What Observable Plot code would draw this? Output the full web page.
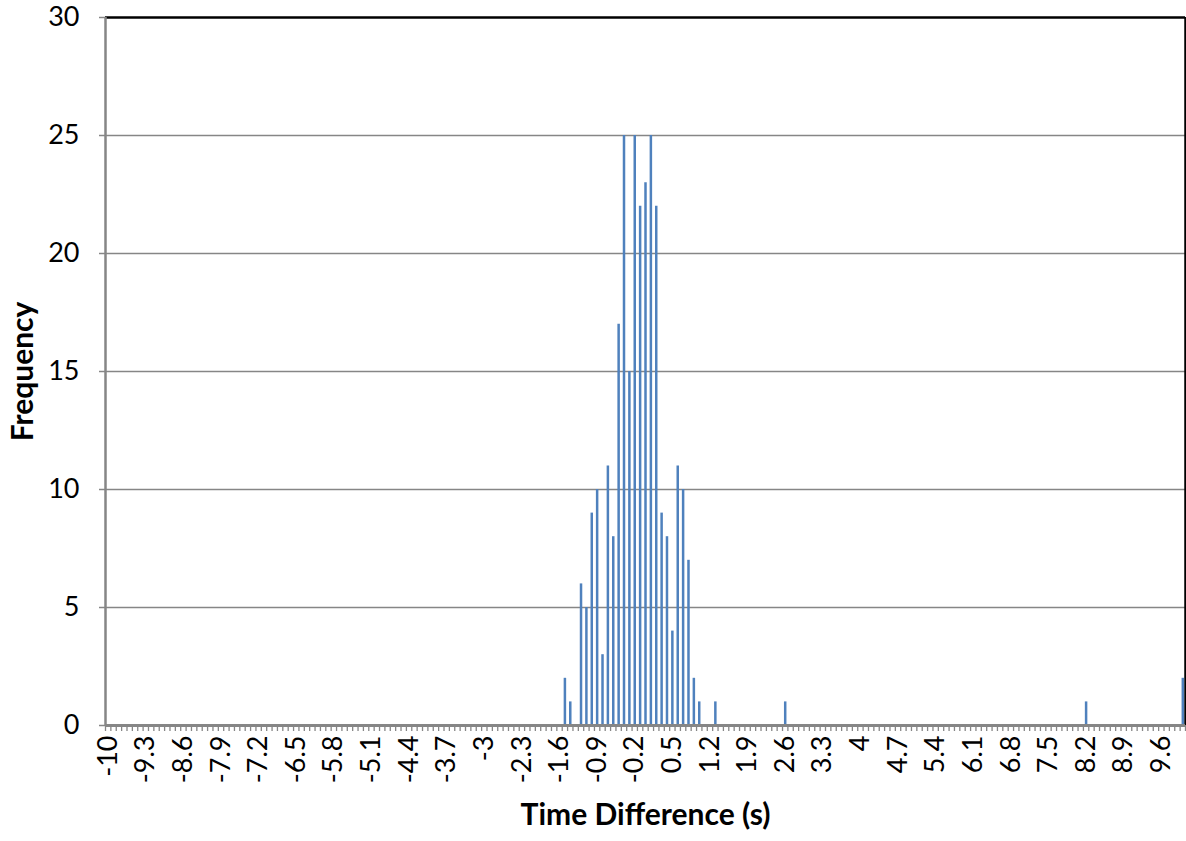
<!DOCTYPE html>
<html>
<head>
<meta charset="utf-8">
<script src="https://cdn.jsdelivr.net/npm/d3@7"></script>
<script src="https://cdn.jsdelivr.net/npm/@observablehq/plot@0.6"></script>
<style>
  html, body { margin: 0; padding: 0; background: #fff; }
  #chart { width: 1186px; height: 841px; }
</style>
</head>
<body>
<div id="chart"></div>
<script>
// Histogram bins (s) with non-zero frequency
const binValues = [-1.5, -1.4, -1.2, -1.1, -1.0, -0.9, -0.8, -0.7, -0.6, -0.5, -0.4, -0.3, -0.2, -0.1, 0, 0.1, 0.2, 0.3, 0.4, 0.5, 0.6, 0.7, 0.8, 0.9, 1.0, 1.3, 2.6, 8.2, 10];
const counts    = [2, 1, 6, 5, 9, 10, 3, 11, 8, 17, 25, 15, 25, 22, 23, 25, 22, 9, 8, 4, 11, 10, 7, 2, 1, 1, 1, 1, 2];

// Category axis: -10 .. 10 in steps of 0.1, labelled every 7th category
const tickLabels = ["-10", "-9.3", "-8.6", "-7.9", "-7.2", "-6.5", "-5.8", "-5.1", "-4.4", "-3.7", "-3", "-2.3", "-1.6", "-0.9", "-0.2", "0.5", "1.2", "1.9", "2.6", "3.3", "4", "4.7", "5.4", "6.1", "6.8", "7.5", "8.2", "8.9", "9.6"];
const yTicks = [0, 5, 10, 15, 20, 25, 30];
const gridValues = [5, 10, 15, 20, 25];
const xTitle = "Time Difference (s)";
const yTitle = "Frequency";

const data = binValues.map((v, i) => ({v, n: counts[i]}));
const binEdges = d3.range(0, 202).map(k => -10.05 + k * 0.1);
const tickPos = tickLabels.map(Number);

const gray = "#868686";
const blue = "#4F81BD";

const chart = Plot.plot({
  width: 1186,
  height: 841,
  marginLeft: 105,
  marginRight: 1,
  marginTop: 17,
  marginBottom: 116,
  style: {fontFamily: "Lato, 'Open Sans', sans-serif", fontSize: "27px", background: "#fff", color: "#000"},
  x: {type: "linear", domain: [-10.05, 10.05]},
  y: {domain: [0, 30]},
  marks: [
    Plot.ruleY(gridValues, {stroke: gray, strokeWidth: 1.6}),
    Plot.ruleY([30], {stroke: "#000", strokeWidth: 2.5}),
    Plot.ruleX([10.05], {stroke: "#000", strokeWidth: 2.5}),
    Plot.ruleX(data, {x: "v", y1: 0, y2: "n", stroke: blue, strokeWidth: 2.5}),
    Plot.ruleX([-10.05], {stroke: gray, strokeWidth: 2.5}),
    Plot.ruleY([0], {stroke: gray, strokeWidth: 3}),
    Plot.axisY({ticks: yTicks, tickSize: 6, tickPadding: 20, stroke: gray, strokeWidth: 1.5, fontSize: 27, label: null, tickFormat: d => String(d)}),
    Plot.axisX({ticks: binEdges, tickSize: 6, tickFormat: () => "", stroke: gray, strokeWidth: 1.3, label: null}),
    Plot.axisX({ticks: tickPos, tickSize: 0, tickPadding: 10, tickRotate: -90, fontSize: 27, label: null,
                tickFormat: (d, i) => tickLabels[i]}),
    Plot.text([yTitle], {frameAnchor: "left", textAnchor: "middle", dx: -82, rotate: -90, fontWeight: "bold", fontSize: 30, fill: "#000"}),
    Plot.text([xTitle], {frameAnchor: "bottom", textAnchor: "middle", dy: 99, fontWeight: "bold", fontSize: 30, fill: "#000"})
  ]
});
document.getElementById("chart").appendChild(chart);
</script>
</body>
</html>
